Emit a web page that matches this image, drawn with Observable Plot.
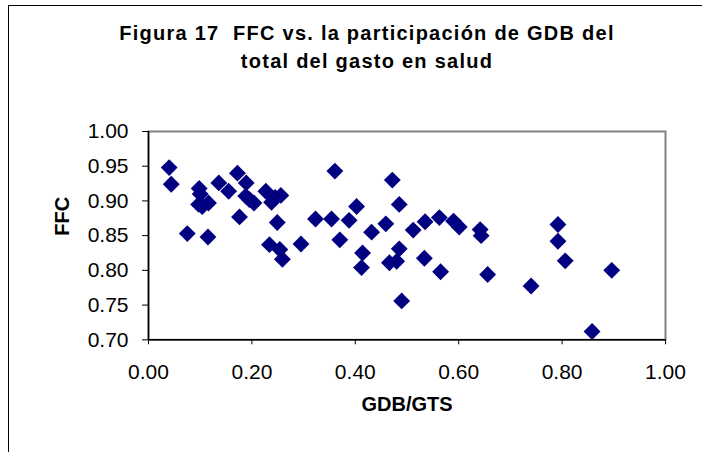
<!DOCTYPE html>
<html><head><meta charset="utf-8">
<script src="https://cdn.jsdelivr.net/npm/d3@7"></script>
<script src="https://cdn.jsdelivr.net/npm/@observablehq/plot@0.6"></script>
<style>
body{margin:0;background:#fff;}
#wrap{position:relative;width:702px;height:452px;overflow:hidden;font-family:"Liberation Sans",Arial,sans-serif;background:#fff;}
#border{position:absolute;left:8px;top:5px;width:800px;height:600px;border-left:1.5px solid #000;border-top:1.5px solid #000;}
#title{position:absolute;left:367px;top:19px;transform:translateX(-50%);white-space:nowrap;text-align:center;font-weight:bold;font-size:20px;line-height:28px;letter-spacing:1.25px;color:#000;}
#chart{position:absolute;left:0;top:100px;}
</style></head>
<body>
<div id="wrap">
  <div id="border"></div>
  <div id="title">Figura 17&nbsp; FFC vs. la participación de GDB del<br>total del gasto en salud</div>
  <div id="chart"></div>
</div>
<script>
const gdbGts = [0.040,0.044,0.075,0.098,0.100,0.097,0.104,0.116,0.115,0.136,0.155,0.172,0.189,0.176,0.188,0.195,0.204,0.227,0.238,0.245,0.256,0.249,0.234,0.254,0.259,0.295,0.323,0.354,0.3605,0.370,0.388,0.4025,0.414,0.412,0.4315,0.459,0.4716,0.485,0.485,0.466,0.480,0.4897,0.512,0.535,0.5626,0.590,0.601,0.6415,0.6434,0.5336,0.565,0.656,0.740,0.792,0.792,0.806,0.858,0.896];
const ffc = [0.948,0.924,0.853,0.918,0.910,0.895,0.892,0.897,0.848,0.926,0.914,0.940,0.926,0.877,0.907,0.902,0.897,0.914,0.898,0.905,0.908,0.869,0.837,0.830,0.816,0.838,0.874,0.874,0.943,0.844,0.872,0.892,0.825,0.804,0.855,0.867,0.930,0.895,0.831,0.811,0.813,0.756,0.858,0.870,0.876,0.871,0.8625,0.8587,0.850,0.8175,0.798,0.794,0.7774,0.866,0.842,0.8137,0.712,0.800];
const xTicks = [0,0.2,0.4,0.6,0.8,1.0];
const yTicks = [0.70,0.75,0.80,0.85,0.90,0.95,1.00];
const xLabel = "GDB/GTS";
const yLabel = "FFC";

const data = gdbGts.map((x,i)=>({x, y: ffc[i]}));
const chart = Plot.plot({
  width:702, height:352,
  marginLeft:148, marginRight:37, marginTop:31, marginBottom:112.7,
  style:{fontFamily:"'Liberation Sans', Arial, sans-serif", fontSize:"21px", background:"transparent", color:"#000", overflow:"visible"},
  x:{domain:[0,1]},
  y:{domain:[0.70,1.00]},
  marks:[
    Plot.frame({stroke:"#808080", strokeWidth:2}),
    Plot.dot(data,{x:"x",y:"y",symbol:"diamond2",r:7.6,fill:"#000080",stroke:"none"}),
    Plot.ruleX([0],{stroke:"#000",strokeWidth:1.5}),
    Plot.ruleY([0.70],{stroke:"#000",strokeWidth:1.5}),
    Plot.axisX({ticks:xTicks, tickFormat:d=>d.toFixed(2), tickSize:5, tickPadding:19, label:null}),
    Plot.axisY({ticks:yTicks, tickFormat:d=>d.toFixed(2), tickSize:6, tickPadding:14, label:null}),
    Plot.text([yLabel],{text:d=>d, frameAnchor:"left", dx:-86, rotate:-90, fontWeight:"bold", fontSize:20}),
    Plot.text([xLabel],{text:d=>d, frameAnchor:"bottom", dy:71, fontWeight:"bold", fontSize:20})
  ]
});
d3.select(chart).selectAll("text").filter(function(){return this.getAttribute("font-weight")==="bold";}).style("letter-spacing","1.2px");
document.getElementById("chart").appendChild(chart);
</script>
</body></html>
